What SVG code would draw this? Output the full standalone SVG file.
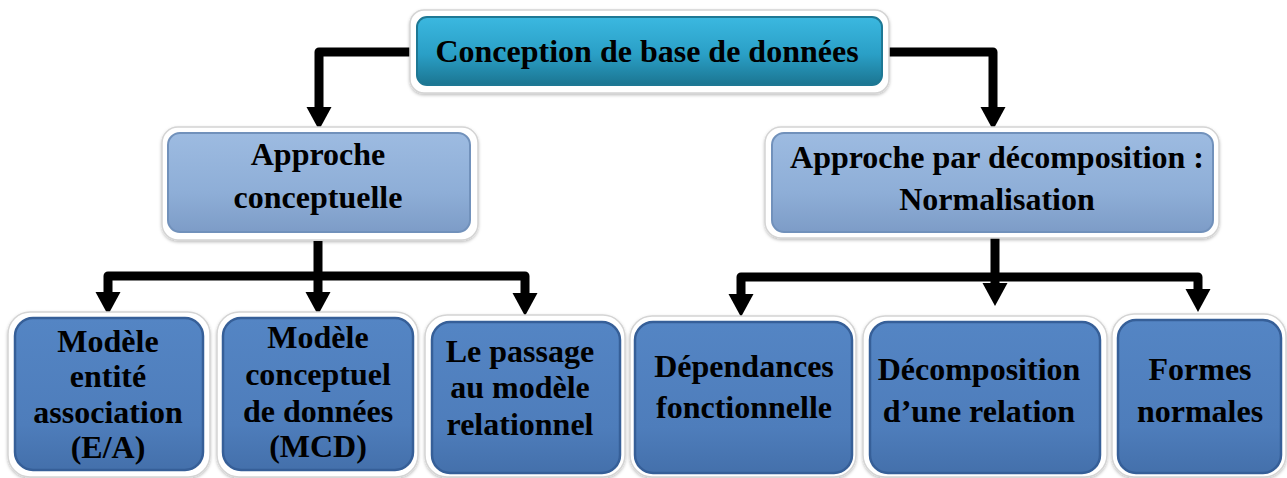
<svg xmlns="http://www.w3.org/2000/svg" width="1287" height="478" viewBox="0 0 1287 478">
<style>
.frame{fill:#ffffff;stroke:#d4d4d4;stroke-width:1.5;filter:url(#sh)}
.top{fill:url(#gTop);stroke:#1e7894;stroke-width:2}
.mid{fill:url(#gMid);stroke:#7191bb;stroke-width:2}
.bot{fill:url(#gBot);stroke:#365f98;stroke-width:2.5}
text{font-family:"Liberation Serif","Times New Roman",serif;font-weight:bold;font-size:32px;fill:#000;text-anchor:middle}
.conn{fill:none;stroke:#000;stroke-width:9;stroke-linejoin:round;marker-end:url(#arr)}
.trunk{fill:none;stroke:#000;stroke-width:9;stroke-linejoin:round}
</style>
<defs>
<filter id="sh" x="-10%" y="-10%" width="120%" height="130%">
<feDropShadow dx="0" dy="1.5" stdDeviation="1.5" flood-color="#000" flood-opacity="0.25"/>
</filter>
<linearGradient id="gTop" x1="0" y1="0" x2="0" y2="1">
<stop offset="0" stop-color="#3bb8e0"/>
<stop offset="0.55" stop-color="#2a9fc6"/>
<stop offset="1" stop-color="#1b7591"/>
</linearGradient>
<linearGradient id="gMid" x1="0" y1="0" x2="0" y2="1">
<stop offset="0" stop-color="#9dbbe1"/>
<stop offset="0.6" stop-color="#8eaed7"/>
<stop offset="1" stop-color="#7d9cc7"/>
</linearGradient>
<linearGradient id="gBot" x1="0" y1="0" x2="0" y2="1">
<stop offset="0" stop-color="#5485c4"/>
<stop offset="0.7" stop-color="#4e7dbb"/>
<stop offset="1" stop-color="#4470ab"/>
</linearGradient>
<marker id="arr" viewBox="0 -13 23 26" refX="0" refY="0" markerWidth="23" markerHeight="26" markerUnits="userSpaceOnUse" orient="auto">
<path d="M0,-12.5 L23,0 L0,12.5 z" fill="#000"/>
</marker>
</defs>

<g id="connectors">
<path class="conn" d="M410,52 H319 V107"/>
<path class="conn" d="M889,52 H993 V107"/>
<path class="trunk" d="M318,241 V277"/>
<path class="conn" d="M318,276 H108 V292"/>
<path class="conn" d="M318,276 V292"/>
<path class="conn" d="M318,276 H525 V293"/>
<path class="trunk" d="M995,237 V277"/>
<path class="conn" d="M995,277 H741 V294"/>
<path class="conn" d="M995,277 V283"/>
<path class="conn" d="M995,277 H1198 V289"/>
</g>

<g id="n-root">
<rect class="frame" x="410" y="10" width="479" height="83" rx="14"/>
<rect class="top" x="417" y="17" width="465" height="68" rx="10"/>
<text x="647" y="62">Conception de base de données</text>
</g>

<g id="n-conceptuelle">
<rect class="frame" x="162" y="127" width="316" height="113" rx="16"/>
<rect class="mid" x="168" y="133" width="302" height="99" rx="12"/>
<text x="318" y="165">Approche</text>
<text x="318" y="208">conceptuelle</text>
</g>

<g id="n-decomposition">
<rect class="frame" x="765" y="127" width="454" height="111" rx="16"/>
<rect class="mid" x="772" y="133" width="441" height="99" rx="12"/>
<text x="997" y="168">Approche par décomposition :</text>
<text x="997" y="210">Normalisation</text>
</g>

<g id="n-ea">
<rect class="frame" x="8" y="312" width="202" height="165" rx="22"/>
<rect class="bot" x="15" y="318" width="188" height="152" rx="18"/>
<text x="108" y="352">Modèle</text>
<text x="108" y="387">entité</text>
<text x="108" y="423">association</text>
<text x="108" y="458">(E/A)</text>
</g>

<g id="n-mcd">
<rect class="frame" x="217" y="312" width="201" height="165" rx="22"/>
<rect class="bot" x="223" y="318" width="190" height="152" rx="18"/>
<text x="318" y="348">Modèle</text>
<text x="318" y="385">conceptuel</text>
<text x="318" y="422">de données</text>
<text x="318" y="457">(MCD)</text>
</g>

<g id="n-passage">
<rect class="frame" x="425" y="315" width="200" height="162" rx="22"/>
<rect class="bot" x="432" y="322" width="188" height="151" rx="18"/>
<text x="520" y="362">Le passage</text>
<text x="520" y="398">au modèle</text>
<text x="520" y="435">relationnel</text>
</g>

<g id="n-dependances">
<rect class="frame" x="630" y="316" width="226" height="161" rx="22"/>
<rect class="bot" x="635" y="322" width="217" height="151" rx="18"/>
<text x="744" y="377">Dépendances</text>
<text x="744" y="418">fonctionnelle</text>
</g>

<g id="n-decomp-rel">
<rect class="frame" x="863" y="316" width="244" height="161" rx="22"/>
<rect class="bot" x="870" y="322" width="230" height="151" rx="18"/>
<text x="979" y="380">Décomposition</text>
<text x="979" y="422">d’une relation</text>
</g>

<g id="n-formes">
<rect class="frame" x="1112" y="314" width="174" height="163" rx="22"/>
<rect class="bot" x="1118" y="320" width="163" height="153" rx="18"/>
<text x="1200" y="380">Formes</text>
<text x="1200" y="422">normales</text>
</g>
</svg>
